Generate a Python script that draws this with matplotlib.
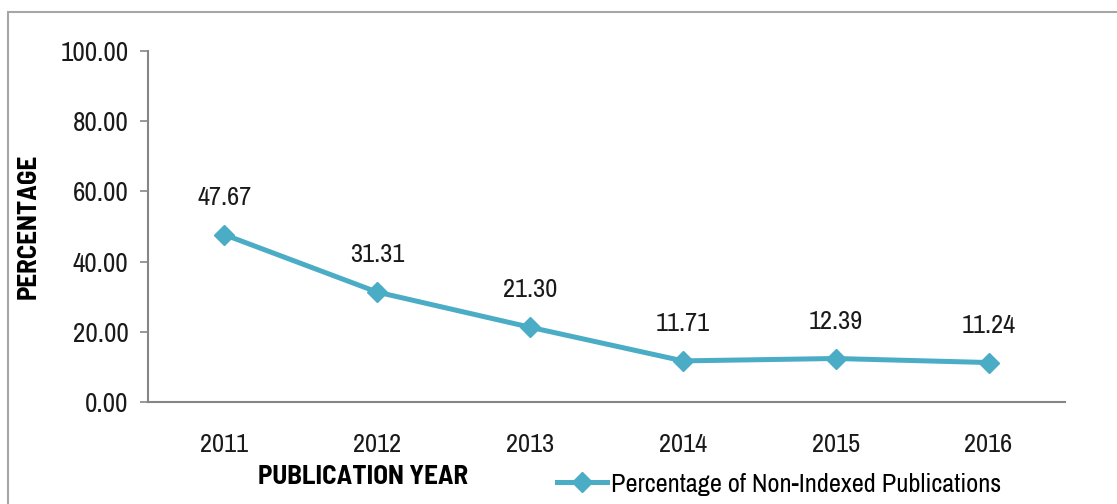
import matplotlib.pyplot as plt
from matplotlib.lines import Line2D
from matplotlib.patches import Rectangle

plt.rcParams["font.family"] = ["Archivo Narrow", "DejaVu Sans"]
BOLD_FAMILY = ["Barlow Semi Condensed", "Asap Condensed", "DejaVu Sans"]

years = ["2011", "2012", "2013", "2014", "2015", "2016"]
percentages = [47.67, 31.31, 21.30, 11.71, 12.39, 11.24]
y_ticks = [0, 20, 40, 60, 80, 100]

LINE_COLOR = "#4BACC6"
AXIS_COLOR = "#868686"
TEXT_COLOR = "#1a1a1a"

fig = plt.figure(figsize=(11.17, 5.04), dpi=100)
ax = fig.add_axes([0.1325, 0.2024, 0.9534 - 0.1325, 0.8988 - 0.2024])

# outer chart border (runs off the right and bottom edges)
fig.patches.append(Rectangle((8 / 1117, -0.05), 1.2, 1 - 12 / 504 + 0.05,
                             transform=fig.transFigure, fill=False,
                             edgecolor="#a6a6a6", linewidth=1.5))

x = list(range(len(years)))
ax.plot(x, percentages, color=LINE_COLOR, linewidth=3.6, marker="D",
        markersize=10, markeredgecolor=LINE_COLOR, markerfacecolor=LINE_COLOR)

for xi, val in zip(x, percentages):
    ax.annotate(f"{val:.2f}", (xi, val), xytext=(0, 27), textcoords="offset points",
                ha="center", va="center", fontsize=19, color=TEXT_COLOR)

ax.set_xlim(-0.5, len(years) - 0.5)
ax.set_ylim(0, 100)
ax.set_xticks(x)
ax.set_xticklabels(years)
ax.set_yticks(y_ticks)
ax.set_yticklabels([f"{t:.2f}" for t in y_ticks])
ax.tick_params(axis="x", length=0, pad=22, labelsize=19, labelcolor=TEXT_COLOR)
ax.tick_params(axis="y", length=6, width=1.2, color=AXIS_COLOR, pad=8,
               labelsize=19.5, labelcolor=TEXT_COLOR)

for side in ["top", "right"]:
    ax.spines[side].set_visible(False)
for side in ["left", "bottom"]:
    ax.spines[side].set_color(AXIS_COLOR)
    ax.spines[side].set_linewidth(1.5)

fig.text(363 / 1117, 1 - 477 / 504, "PUBLICATION YEAR", ha="center", va="center",
         fontsize=19.5, fontweight="bold", family=BOLD_FAMILY, color="black")
fig.text(29 / 1117, 1 - 226 / 504, "PERCENTAGE", ha="center", va="center",
         rotation=90, fontsize=19.5, fontweight="bold", family=BOLD_FAMILY,
         color="black")

handle = Line2D([0], [0], color=LINE_COLOR, linewidth=3.6, marker="D",
                markersize=10)
fig.legend(handles=[handle], labels=["Percentage of Non-Indexed Publications"],
           loc="center left", bbox_to_anchor=(557 / 1117, 1 - 484 / 504),
           frameon=False, fontsize=19, handlelength=1.9, handletextpad=0.15,
           borderaxespad=0, borderpad=0)

fig.savefig("out.png", dpi=100)
